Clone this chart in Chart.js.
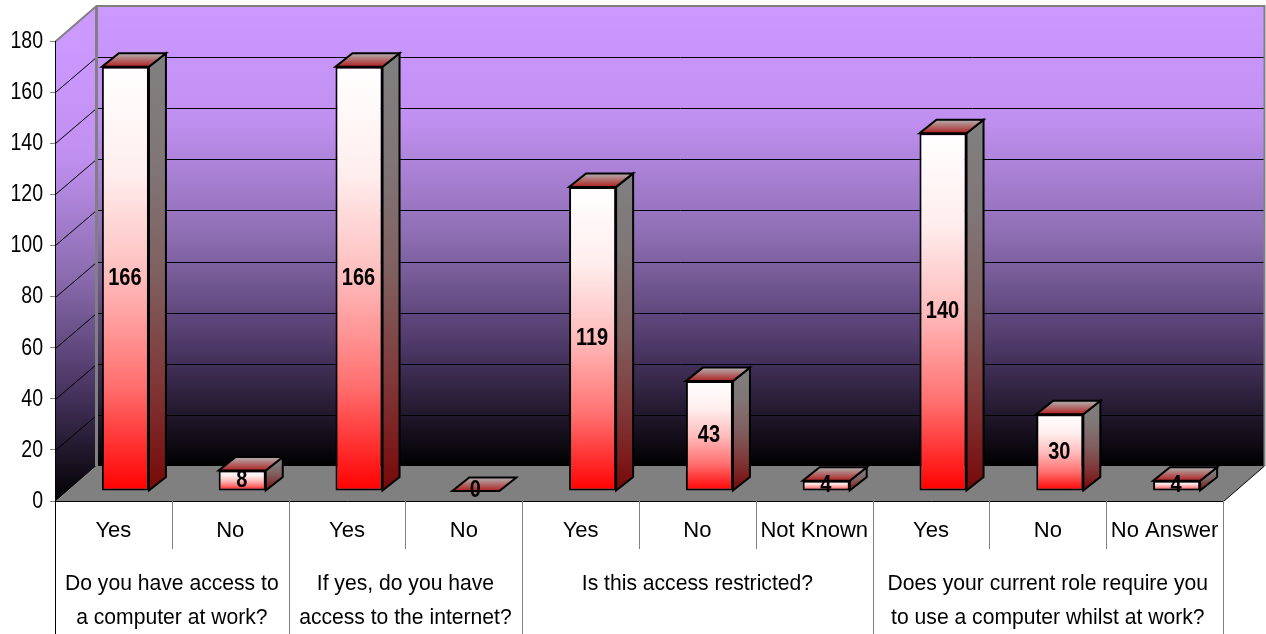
<!DOCTYPE html>
<html>
<head>
<meta charset="utf-8">
<script src="https://cdn.jsdelivr.net/npm/chart.js@4/dist/chart.umd.js"></script>
<style>
  html, body { margin: 0; padding: 0; background: #fff; }
  canvas { display: block; }
</style>
</head>
<body>
<canvas id="myChart" width="1266" height="634"></canvas>
<script>
// Labels along the x-axis
let answers = ['Yes','No','Yes','No','Yes','No','Not Known','Yes','No','No Answer'];
let counts = [166,8,166,0,119,43,4,140,30,4];
// Second row of labels, and how many answers each one covers
let questions = [
  ['Do you have access to','a computer at work?'],
  ['If yes, do you have','access to the internet?'],
  ['Is this access restricted?'],
  ['Does your current role require you','to use a computer whilst at work?']
];
let questionSpans = [2,2,3,3];
let yTicks = [0,20,40,60,80,100,120,140,160,180];

// 3D look: how far the back wall sits from the front plane
const wallDx = 41, wallDy = -35.5;
// where the front of a bar sits on the floor, and how deep a bar is
const barDx = 12, barDy = -10, depthDx = 17, depthDy = -13.5;
const wallStops = ['#cc99ff', '#c090f0', '#8d6eb2', '#4a3663', '#000000'];
const font = '"Liberation Sans"';

function poly(ctx, pts, fill, stroke, lineWidth) {
  ctx.beginPath();
  pts.forEach((p, i) => i ? ctx.lineTo(p[0], p[1]) : ctx.moveTo(p[0], p[1]));
  ctx.closePath();
  if (fill) { ctx.fillStyle = fill; ctx.fill(); }
  if (stroke) { ctx.strokeStyle = stroke; ctx.lineWidth = lineWidth || 1; ctx.stroke(); }
}

function vGrad(ctx, y0, y1, stops) {
  let g = ctx.createLinearGradient(0, y0, 0, y1);
  stops.forEach((c, i) => g.addColorStop(i / (stops.length - 1), c));
  return g;
}

// the reference text is tall and narrow, no condensed face is installed so squeeze it
function squeezed(ctx, txt, x, y, sx, cssFont, align) {
  ctx.save();
  ctx.font = cssFont;
  ctx.fillStyle = '#000000';
  ctx.textAlign = align || 'center';
  ctx.textBaseline = 'middle';
  ctx.translate(x, y);
  ctx.scale(sx, 1);
  ctx.fillText(txt, 0, 0);
  ctx.restore();
}

const walls3d = {
  id: 'walls3d',
  beforeDraw(chart) {
    const ctx = chart.ctx, a = chart.chartArea, y = chart.scales.y;
    const l = a.left + 0.5, r = a.right + 0.5, t = a.top + 0.5, b = a.bottom + 0.5;
    ctx.save();
    // back wall
    poly(ctx, [[l + wallDx, t + wallDy], [r + wallDx, t + wallDy], [r + wallDx, b + wallDy], [l + wallDx, b + wallDy]],
      vGrad(ctx, t + wallDy, b + wallDy, wallStops));
    // side wall
    poly(ctx, [[l, t], [l + wallDx, t + wallDy], [l + wallDx, b + wallDy], [l, b]],
      vGrad(ctx, t, b, wallStops));
    // floor
    poly(ctx, [[l, b], [l + wallDx, b + wallDy], [r + wallDx, b + wallDy], [r, b]], '#808080');
    // grid lines on the two walls
    ctx.lineWidth = 1;
    ctx.strokeStyle = '#000000';
    yTicks.forEach(v => {
      if (v === 0 || v === 180) return;
      const py = Math.round(y.getPixelForValue(v)) + 0.5;
      ctx.beginPath();
      ctx.moveTo(l, py);
      ctx.lineTo(l + wallDx, Math.round(py + wallDy) + 0.5);
      ctx.lineTo(r + wallDx, Math.round(py + wallDy) + 0.5);
      ctx.stroke();
    });
    // wall edges
    ctx.strokeStyle = '#808080';
    ctx.lineWidth = 2;
    ctx.beginPath();
    ctx.moveTo(l, t);
    ctx.lineTo(l + wallDx, t + wallDy);
    ctx.lineTo(r + wallDx, t + wallDy);
    ctx.lineTo(r + wallDx, b + wallDy);
    ctx.stroke();
    ctx.lineWidth = 3;
    ctx.beginPath();
    ctx.moveTo(l + wallDx, t + wallDy);
    ctx.lineTo(l + wallDx, b + wallDy);
    ctx.stroke();
    ctx.lineWidth = 1;
    ctx.strokeStyle = '#000000';
    ctx.beginPath();
    ctx.moveTo(r + wallDx, b + wallDy);
    ctx.lineTo(r, b);
    ctx.stroke();
    ctx.restore();
  },
  beforeDatasetDraw(chart) {
    chart.ctx.save();
    chart.ctx.translate(barDx, barDy);
  },
  afterDatasetDraw(chart, args) {
    const ctx = chart.ctx;
    // still translated onto the floor here
    args.meta.data.forEach(bar => {
      const half = bar.width / 2, x0 = bar.x - half, x1 = bar.x + half, top = bar.y, base = bar.base;
      if (base - top > 1) {
        poly(ctx, [[x1, top], [x1 + depthDx, top + depthDy], [x1 + depthDx, base + depthDy], [x1, base]],
          vGrad(ctx, top + depthDy, base, ['#808080', '#807676', '#806060', '#803838', '#780808']), '#000000', 2);
      }
      poly(ctx, [[x0, top], [x1, top], [x1 + depthDx, top + depthDy], [x0 + depthDx, top + depthDy]],
        vGrad(ctx, top + depthDy, top, ['#b3b3b3', '#b01f1f']), '#000000', 2);
    });
    args.meta.data.forEach((bar, i) => {
      squeezed(ctx, String(counts[i]), bar.x - 0.5, (bar.y + bar.base) / 2, 0.87, 'bold 23px ' + font);
    });
    ctx.restore();
  },
  afterDraw(chart) {
    const ctx = chart.ctx, a = chart.chartArea, x = chart.scales.x, y = chart.scales.y;
    const band = a.width / answers.length;
    ctx.save();
    ctx.lineWidth = 1;
    let start = 0;
    let groupEnds = [0];
    questionSpans.forEach(n => { start += n; groupEnds.push(start); });
    for (let i = 0; i <= answers.length; i++) {
      const px = Math.round(x.getPixelForValue(i) - band / 2) + 0.5;
      ctx.beginPath();
      ctx.moveTo(px, a.bottom);
      ctx.lineTo(px, groupEnds.includes(i) ? 634 : a.bottom + 48);
      ctx.strokeStyle = i === 0 ? '#000000' : '#808080';
      ctx.stroke();
    }
    ctx.restore();
    // tick labels
    yTicks.forEach(v => squeezed(ctx, String(v), 43, y.getPixelForValue(v) + 0.5, 0.85, '23px ' + font, 'right'));
    answers.forEach((txt, i) => squeezed(ctx, txt, x.getPixelForValue(i), 531, 1, '22px ' + font));
    questions.forEach((lines, q) => {
      const cx = a.left + band * (groupEnds[q] + groupEnds[q + 1]) / 2;
      lines.forEach((txt, j) => squeezed(ctx, txt, cx, 584 + j * 34, 0.96, '22px ' + font));
    });
  }
};

function renderChart() {
  let ctx = document.getElementById('myChart');
  new Chart(ctx, {
    type: 'bar',
    data: {
      labels: answers,
      datasets: [{
        data: counts,
        clip: false,
        borderColor: '#000000',
        borderWidth: 2,
        borderSkipped: false,
        categoryPercentage: 1,
        barPercentage: 0.403,
        backgroundColor(c) {
          const chart = c.chart;
          if (!chart.chartArea || c.parsed === undefined) return '#ff0000';
          const y = chart.scales.y;
          return vGrad(chart.ctx, y.getPixelForValue(c.parsed.y), y.getPixelForValue(0), ['#ffffff', '#ffeeee', '#ffbbbb', '#ff7070', '#ff0000']);
        }
      }]
    },
    options: {
      responsive: false,
      animation: false,
      layout: { padding: { top: 41, right: 43, left: 0, bottom: 0 } },
      plugins: { legend: { display: false }, tooltip: { enabled: false } },
      scales: {
        x: {
          afterFit(s) { s.height = 133; },
          grid: { drawOnChartArea: false, drawTicks: false },
          border: { color: '#000000', width: 1 },
          ticks: { display: false }
        },
        y: {
          min: 0,
          max: 180,
          afterFit(s) { s.width = 55; },
          afterBuildTicks(s) { s.ticks = yTicks.map(v => ({ value: v })); },
          grid: { drawOnChartArea: false, tickLength: 5, tickColor: '#808080' },
          border: { color: '#000000', width: 1 },
          ticks: { display: false }
        }
      }
    },
    plugins: [walls3d]
  });
}

renderChart();
</script>
</body>
</html>
